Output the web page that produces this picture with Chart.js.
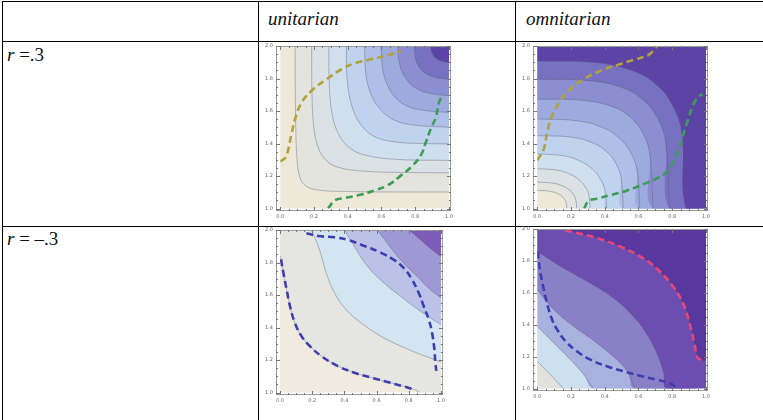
<!DOCTYPE html>
<html>
<head>
<meta charset="utf-8">
<script src="https://cdn.jsdelivr.net/npm/chart.js@4.4.0/dist/chart.umd.min.js"></script>
<style>
  body { margin: 0; background: #fff; width: 763px; height: 420px; overflow: hidden; position: relative; color: #111; }
  .hl { position: absolute; height: 1px; background: #000; }
  .vl { position: absolute; width: 1px; background: #000; }
  .txt { position: absolute; font-family: "Liberation Serif", "DejaVu Serif", serif; font-size: 19px; white-space: nowrap; }
  .txt i { font-style: italic; }
  .box { position: absolute; }
</style>
</head>
<body>
<div class="hl" style="left:2px; top:1px; width:761px;"></div>
<div class="hl" style="left:2px; top:41px; width:761px;"></div>
<div class="hl" style="left:2px; top:226px; width:761px;"></div>
<div class="vl" style="left:2px; top:1px; height:419px;"></div>
<div class="vl" style="left:258px; top:1px; height:419px;"></div>
<div class="vl" style="left:515px; top:1px; height:419px;"></div>

<div class="txt" style="left:268px; top:8px;"><i>unitarian</i></div>
<div class="txt" style="left:526px; top:8px;"><i>omnitarian</i></div>
<div class="txt" style="left:7px; top:44px;"><i>r</i> =.3</div>
<div class="txt" style="left:7px; top:228px;"><i>r</i> = &ndash;.3</div>

<div class="box" style="left:260px; top:40px; width:196px; height:183px;"><canvas id="uniPos"></canvas></div>
<div class="box" style="left:517px; top:40px; width:196px; height:183px;"><canvas id="omniPos"></canvas></div>
<div class="box" style="left:260px; top:224px; width:188px; height:183px;"><canvas id="uniNeg"></canvas></div>
<div class="box" style="left:517px; top:223px; width:196px; height:180px;"><canvas id="omniNeg"></canvas></div>

<script>
// axis ticks
const xTicks = [0.0, 0.2, 0.4, 0.6, 0.8, 1.0];
const yTicks = [1.0, 1.2, 1.4, 1.6, 1.8, 2.0];

// unitarian, r = .3 : contour boundaries, lowest level first
const uniPosContours = [
  [[0.088,2.0],[0.089,1.75],[0.092,1.5],[0.098,1.33],[0.112,1.21],[0.145,1.145],[0.22,1.115],[0.4,1.105],[0.7,1.102],[1.0,1.102]],
  [[0.186,2.0],[0.188,1.72],[0.197,1.52],[0.22,1.39],[0.265,1.305],[0.34,1.255],[0.5,1.23],[0.75,1.222],[1.0,1.22]],
  [[0.288,2.0],[0.291,1.76],[0.306,1.59],[0.345,1.46],[0.415,1.37],[0.52,1.325],[0.7,1.302],[1.0,1.296]],
  [[0.392,2.0],[0.397,1.79],[0.425,1.63],[0.475,1.52],[0.555,1.445],[0.68,1.41],[0.85,1.4],[1.0,1.398]],
  [[0.5,2.0],[0.507,1.83],[0.535,1.71],[0.585,1.62],[0.665,1.55],[0.78,1.515],[1.0,1.5]],
  [[0.598,2.0],[0.607,1.86],[0.635,1.76],[0.685,1.68],[0.765,1.625],[0.88,1.6],[1.0,1.592]],
  [[0.696,2.0],[0.707,1.89],[0.745,1.8],[0.805,1.74],[0.9,1.706],[1.0,1.694]],
  [[0.794,2.0],[0.806,1.91],[0.845,1.845],[0.915,1.808],[1.0,1.796]],
  [[0.892,2.0],[0.905,1.945],[0.945,1.912],[1.0,1.898]]
];
const uniPosGold = [[0,1.29],[0.033,1.316],[0.065,1.449],[0.088,1.551],[0.127,1.653],[0.196,1.735],[0.275,1.796],[0.363,1.857],[0.441,1.894],[0.539,1.918],[0.637,1.943],[0.716,1.969]];
const uniPosGreen = [[0.284,1.0],[0.324,1.051],[0.382,1.065],[0.48,1.086],[0.559,1.112],[0.637,1.143],[0.716,1.204],[0.775,1.255],[0.833,1.327],[0.863,1.408],[0.892,1.49],[0.922,1.561],[0.941,1.653],[0.961,1.694]];

// omnitarian, r = .3
const omniPosContours = [
  [[0,1.112],[0.07,1.107],[0.114,1.095],[0.141,1.08],[0.158,1.062],[0.171,1.039],[0.176,1.0],[1,1]],
  [[0,1.163],[0.094,1.156],[0.153,1.138],[0.188,1.116],[0.212,1.091],[0.228,1.057],[0.235,1.0],[1,1]],
  [[0,1.245],[0.126,1.235],[0.204,1.207],[0.251,1.174],[0.283,1.136],[0.305,1.086],[0.314,1.0],[1,1]],
  [[0,1.337],[0.165,1.323],[0.268,1.285],[0.33,1.24],[0.371,1.188],[0.4,1.118],[0.412,1.0],[1,1]],
  [[0,1.449],[0.204,1.439],[0.332,1.403],[0.408,1.353],[0.459,1.291],[0.495,1.199],[0.51,1.0],[1,1]],
  [[0,1.551],[0.243,1.539],[0.395,1.495],[0.486,1.434],[0.547,1.357],[0.59,1.244],[0.608,1.0],[1,1]],
  [[0,1.673],[0.274,1.665],[0.446,1.627],[0.549,1.565],[0.617,1.481],[0.665,1.349],[0.686,1.0],[1,1]],
  [[0,1.796],[0.314,1.786],[0.51,1.741],[0.627,1.668],[0.706,1.569],[0.76,1.413],[0.784,1.0],[1,1]],
  [[0,1.908],[0.353,1.897],[0.573,1.845],[0.706,1.762],[0.794,1.649],[0.856,1.471],[0.882,1.0],[1,1]]
];
const omniPosGold = [[0,1.296],[0.039,1.367],[0.059,1.469],[0.088,1.571],[0.137,1.663],[0.196,1.735],[0.275,1.796],[0.373,1.847],[0.471,1.882],[0.569,1.914],[0.657,1.943],[0.686,1.969],[0.706,1.996]];
const omniPosGreen = [[0.278,1.0],[0.304,1.047],[0.353,1.061],[0.431,1.082],[0.529,1.11],[0.627,1.149],[0.706,1.184],[0.765,1.224],[0.804,1.286],[0.833,1.347],[0.863,1.449],[0.892,1.541],[0.922,1.633],[0.951,1.684],[0.98,1.704]];

// unitarian, r = -.3
const uniNegContours = [
  [[0,1.84],[0.006,1.82],[0.021,1.735],[0.041,1.633],[0.062,1.531],[0.092,1.429],[0.133,1.347],[0.185,1.286],[0.257,1.224],[0.359,1.163],[0.462,1.122],[0.565,1.092],[0.667,1.065],[0.77,1.037],[0.832,1.02],[0.87,1.0],[1,1]],
  [[0.195,2.0],[0.246,1.878],[0.287,1.735],[0.339,1.612],[0.411,1.51],[0.503,1.429],[0.626,1.347],[0.749,1.286],[0.873,1.235],[1.0,1.188]],
  [[0.4,2.0],[0.462,1.898],[0.544,1.776],[0.647,1.673],[0.749,1.592],[0.873,1.5],[1.0,1.418]],
  [[0.606,2.0],[0.667,1.918],[0.749,1.816],[0.852,1.714],[0.934,1.633],[1.0,1.582]],
  [[0.801,2.0],[0.873,1.939],[0.945,1.878],[1.0,1.837]]
];
const uniNegLowBlue = [[0.006,1.82],[0.021,1.735],[0.041,1.633],[0.062,1.531],[0.092,1.429],[0.133,1.347],[0.185,1.286],[0.257,1.224],[0.359,1.163],[0.462,1.122],[0.565,1.092],[0.667,1.065],[0.77,1.037],[0.832,1.02]];
const uniNegHighBlue = [[0.164,1.98],[0.236,1.963],[0.339,1.955],[0.421,1.939],[0.524,1.902],[0.626,1.861],[0.708,1.816],[0.77,1.765],[0.821,1.694],[0.862,1.612],[0.893,1.531],[0.924,1.449],[0.945,1.367],[0.959,1.265],[0.965,1.184],[0.971,1.133]];

// omnitarian, r = -.3
const omniNegContours = [
  [[0,1.171],[0.05,1.118],[0.1,1.063],[0.157,1.0],[1,1]],
  [[0,1.39],[0.098,1.286],[0.196,1.182],[0.275,1.088],[0.333,1.0],[1,1]],
  [[0,1.62],[0.098,1.495],[0.216,1.39],[0.353,1.286],[0.471,1.182],[0.539,1.098],[0.578,1.0],[1,1]],
  [[0,1.86],[0.137,1.766],[0.294,1.672],[0.451,1.568],[0.569,1.453],[0.657,1.328],[0.716,1.203],[0.749,1.098],[0.765,1.0],[1,1]],
  [[0.157,2.0],[0.235,1.975],[0.353,1.944],[0.49,1.891],[0.627,1.818],[0.725,1.735],[0.804,1.641],[0.863,1.537],[0.902,1.411],[0.931,1.286],[0.951,1.192],[0.971,1.177],[1.0,1.177]]
];
const omniNegBlue = [[0.004,1.86],[0.016,1.745],[0.039,1.62],[0.063,1.516],[0.088,1.433],[0.118,1.37],[0.167,1.298],[0.235,1.234],[0.314,1.182],[0.412,1.14],[0.51,1.109],[0.608,1.081],[0.706,1.056],[0.784,1.035],[0.824,1.008]];
const omniNegRed = [[0.167,1.99],[0.235,1.975],[0.353,1.944],[0.49,1.891],[0.627,1.818],[0.725,1.735],[0.804,1.641],[0.863,1.537],[0.902,1.411],[0.931,1.286],[0.951,1.192],[0.98,1.178]];

// colours, lowest level first
const tenLevels = ['#eee8d9','#e4e4de','#dbe2e6','#cfdfee','#c0d3ee','#aec0e8','#9caade','#8b8fd1','#7771c1','#5d43a6'];
const uniNegLevels = ['#f1ebdf','#e5e6e1','#d3e5f1','#bac2e8','#a098d4','#7c5cb8'];
const omniNegLevels = ['#e2e2dc','#cde0ef','#a9b1df','#8a80c8','#6c4db0','#58379e'];

const toXY = pts => pts.map(p => ({ x: p[0], y: p[1] }));

// paints the lowest level, clips the datasets to the unit square, then draws the Mathematica-style frame
const plotAreaPlugin = {
  id: 'plotArea',
  beforeDatasetsDraw(chart, args, opts) {
    const { ctx, scales: { x, y } } = chart;
    const l = x.getPixelForValue(0), r = x.getPixelForValue(1);
    const t = y.getPixelForValue(2), b = y.getPixelForValue(1);
    ctx.save();
    ctx.fillStyle = opts.color;
    ctx.fillRect(l, t, r - l, b - t);
    ctx.beginPath();
    ctx.rect(l, t, r - l, b - t);
    ctx.clip();
  },
  afterDatasetsDraw(chart) {
    const { ctx, chartArea: a, scales: { x, y } } = chart;
    ctx.restore();
    ctx.save();
    ctx.strokeStyle = '#9a9a9a';
    ctx.lineWidth = 1;
    ctx.strokeRect(a.left + 0.5, a.top + 0.5, a.right - a.left - 1, a.bottom - a.top - 1);
    ctx.strokeStyle = '#777';
    ctx.beginPath();
    for (let i = 0; i <= 20; i++) {
      const v = i * 0.05;
      const len = i % 4 === 0 ? 4 : 2;
      const px = Math.round(x.getPixelForValue(v)) + 0.5;
      ctx.moveTo(px, a.bottom); ctx.lineTo(px, a.bottom - len);
      ctx.moveTo(px, a.top); ctx.lineTo(px, a.top + len);
      const py = Math.round(y.getPixelForValue(1 + v)) + 0.5;
      ctx.moveTo(a.left, py); ctx.lineTo(a.left + len, py);
      ctx.moveTo(a.right, py); ctx.lineTo(a.right - len, py);
    }
    ctx.stroke();
    ctx.restore();
  }
};

function contourSets(curves, colors) {
  const fills = curves.map((pts, i) => ({
    data: toXY(pts),
    fill: 'end',
    backgroundColor: colors[i + 1],
    borderColor: 'rgba(0,0,0,0)',
    borderWidth: 0,
    order: 100 - i
  }));
  // contour lines, without the stretch that runs along the bottom edge
  const lines = curves.map((pts, i) => ({
    data: toXY(pts.filter(p => !(p[0] >= 1 && p[1] <= 1))),
    fill: false,
    borderColor: 'rgba(90,90,115,0.5)',
    borderWidth: 0.8,
    order: 50 - i
  }));
  return fills.concat(lines);
}

function dashSet(pts, color) {
  return {
    data: toXY(pts),
    fill: false,
    borderColor: color,
    borderWidth: 2.6,
    borderDash: [7, 4],
    order: 0
  };
}

function makePlot(id, curves, colors, dashes) {
  const tickFont = { family: 'DejaVu Sans', size: 5 };
  new Chart(document.getElementById(id), {
    type: 'line',
    data: { datasets: contourSets(curves, colors).concat(dashes) },
    options: {
      responsive: true,
      maintainAspectRatio: false,
      animation: false,
      events: [],
      elements: { point: { radius: 0 }, line: { tension: 0.4 } },
      layout: { padding: { top: 4, right: 4, left: 0, bottom: 0 } },
      scales: {
        x: {
          type: 'linear', min: -0.025, max: 1.012,
          afterBuildTicks: s => { s.ticks = xTicks.map(v => ({ value: v })); },
          afterFit: s => { s.height = 12; },
          grid: { display: false, drawTicks: false, tickLength: 0 }, border: { display: false },
          ticks: { font: tickFont, color: '#666', padding: 3, maxRotation: 0,
                   callback: v => v.toFixed(1) }
        },
        y: {
          type: 'linear', min: 0.985, max: 2.0,
          afterBuildTicks: s => { s.ticks = yTicks.map(v => ({ value: v })); },
          afterFit: s => { s.width = 16; },
          grid: { display: false, drawTicks: false, tickLength: 0 }, border: { display: false },
          ticks: { font: tickFont, color: '#666', padding: 3,
                   callback: v => v.toFixed(1) }
        }
      },
      plugins: {
        legend: { display: false },
        tooltip: { enabled: false },
        plotArea: { color: colors[0] }
      }
    },
    plugins: [plotAreaPlugin]
  });
}

const gold = '#b2a23c', green = '#3d9d55', blue = '#3e3eb2', red = '#e8457c';

makePlot('uniPos', uniPosContours, tenLevels, [dashSet(uniPosGold, gold), dashSet(uniPosGreen, green)]);
makePlot('omniPos', omniPosContours, tenLevels, [dashSet(omniPosGold, gold), dashSet(omniPosGreen, green)]);
makePlot('uniNeg', uniNegContours, uniNegLevels, [dashSet(uniNegLowBlue, blue), dashSet(uniNegHighBlue, blue)]);
makePlot('omniNeg', omniNegContours, omniNegLevels, [dashSet(omniNegBlue, blue), dashSet(omniNegRed, red)]);
</script>
</body>
</html>
